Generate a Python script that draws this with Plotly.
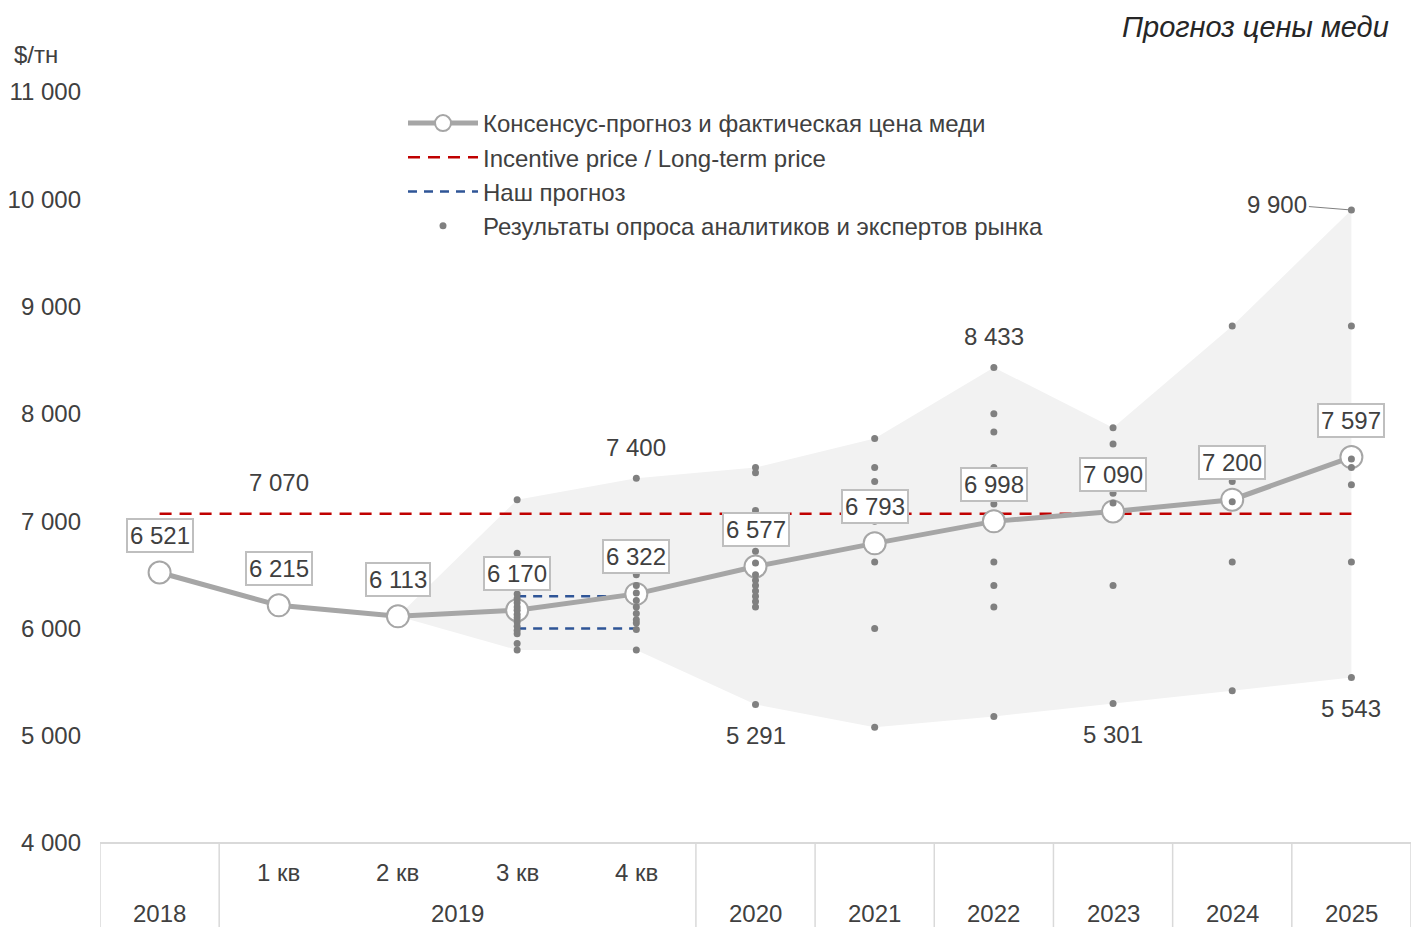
import plotly.graph_objects as go

# ---------------- data ----------------
periods = ["2018", "1 кв", "2 кв", "3 кв", "4 кв", "2020", "2021", "2022", "2023", "2024", "2025"]
year_groups = ["2018", "2019", "2020", "2021", "2022", "2023", "2024", "2025"]
year_group_sizes = [1, 4, 1, 1, 1, 1, 1, 1]

consensus = [6521, 6215, 6113, 6170, 6322, 6577, 6793, 6998, 7090, 7200, 7597]
incentive_price = 7070
our_forecast_high = 6300
our_forecast_low = 6000
our_forecast_periods = ["3 кв", "4 кв"]

band_upper = [None, None, 6113, 7200, 7400, 7500, 7770, 8433, 7870, 8820, 9900]
band_lower = [None, None, 6113, 5800, 5800, 5291, 5080, 5180, 5301, 5420, 5543]

survey = {
    "3 кв": [7200, 6700, 6320, 6280, 6240, 6200, 6170, 6130, 6100, 6060, 6020, 5980, 5950, 5860, 5800],
    "4 кв": [7400, 6500, 6400, 6330, 6260, 6200, 6140, 6080, 6050, 5990, 5800],
    "2020": [7500, 7450, 7100, 6720, 6610, 6500, 6450, 6400, 6350, 6300, 6250, 6200, 5291],
    "2021": [7770, 7500, 7370, 7000, 6620, 6000, 5080],
    "2022": [8433, 8000, 7830, 7500, 7160, 6620, 6400, 6200, 5180],
    "2023": [7870, 7720, 7260, 7170, 6400, 5301],
    "2024": [8820, 7370, 7180, 6620, 5420],
    "2025": [9900, 8820, 7580, 7500, 7340, 6620, 5543],
}

top_labels = [("1 кв", 7070), ("4 кв", 7400), ("2022", 8433)]
bottom_labels = [("2020", 5291), ("2023", 5301), ("2025", 5543)]
callout_label = ("2025", 9900)

# ---------------- styles ----------------
FONT = "Liberation Sans, Arial, sans-serif"
TXT = "#404040"
GRAY_LINE = "#a6a6a6"
DOT = "#808080"

pos = {p: i for i, p in enumerate(periods)}
xs = list(range(len(periods)))

fig = go.Figure()

# band polygon
bx = [pos[p] for p, v in zip(periods, band_upper) if v is not None]
bu = [v for v in band_upper if v is not None]
bl = [v for v in band_lower if v is not None]
fig.add_trace(go.Scatter(
    x=bx + bx[::-1], y=bu + bl[::-1], fill="toself", fillcolor="#f2f2f2",
    line=dict(width=0), mode="lines", showlegend=False, hoverinfo="skip"))

# incentive price
fig.add_trace(go.Scatter(
    x=[xs[0], xs[-1]], y=[incentive_price, incentive_price], mode="lines",
    name="Incentive price / Long-term price", legendrank=2,
    line=dict(color="#c00000", width=2.5, dash="12px,8px")))

# our forecast
fx = [pos[p] for p in our_forecast_periods]
fig.add_trace(go.Scatter(
    x=fx + [None] + fx,
    y=[our_forecast_high] * 2 + [None] + [our_forecast_low] * 2,
    mode="lines", name="Наш прогноз", legendrank=3,
    line=dict(color="#2f5597", width=2.5, dash="9px,7px")))

# consensus line
fig.add_trace(go.Scatter(
    x=xs, y=consensus, mode="lines+markers", legendrank=1,
    name="Консенсус-прогноз и фактическая цена меди",
    line=dict(color=GRAY_LINE, width=5),
    marker=dict(size=22, color="white", line=dict(color=GRAY_LINE, width=2))))

# survey dots
sx, sy = [], []
for p, vals in survey.items():
    for v in vals:
        sx.append(pos[p])
        sy.append(v)
fig.add_trace(go.Scatter(
    x=sx, y=sy, mode="markers", legendrank=4,
    name="Результаты опроса аналитиков и экспертов рынка",
    marker=dict(size=7, color=DOT)))


def fmt(v):
    return f"{v:,}".replace(",", " ")


annotations = []
for i, v in enumerate(consensus):
    annotations.append(dict(
        x=i, y=v, xref="x", yref="y", text=fmt(v), showarrow=False,
        yshift=37, font=dict(size=24, color=TXT, family=FONT),
        bgcolor="white", bordercolor="#bfbfbf", borderwidth=2, borderpad=2))
for p, v in top_labels:
    annotations.append(dict(x=pos[p], y=v, text=fmt(v), showarrow=False, yshift=31,
                            font=dict(size=24, color=TXT, family=FONT)))
for p, v in bottom_labels:
    annotations.append(dict(x=pos[p], y=v, text=fmt(v), showarrow=False, yshift=-31,
                            font=dict(size=24, color=TXT, family=FONT)))
annotations.append(dict(
    x=pos[callout_label[0]], y=callout_label[1], text=fmt(callout_label[1]),
    showarrow=True, arrowhead=0, arrowwidth=1, arrowcolor="#808080",
    ax=-74, ay=-6, standoff=2, font=dict(size=24, color=TXT, family=FONT)))

# x axis category labels
for p in periods:
    if "кв" in p:
        annotations.append(dict(x=pos[p], y=-29 / 751, xref="x", yref="paper",
                                text=p, showarrow=False, yanchor="middle",
                                font=dict(size=24, color=TXT, family=FONT)))
shapes = []
start = 0
boundaries = [-0.5]
for g, n in zip(year_groups, year_group_sizes):
    center = (start + start + n - 1) / 2
    annotations.append(dict(x=center, y=-71 / 751, xref="x", yref="paper",
                            text=g, showarrow=False, yanchor="middle",
                            font=dict(size=24, color=TXT, family=FONT)))
    start += n
    boundaries.append(start - 0.5)
for b in boundaries:
    shapes.append(dict(type="line", xref="x", yref="paper", x0=b, x1=b, y0=0, y1=-0.15,
                       line=dict(color="#d9d9d9", width=1.5)))
shapes.append(dict(type="line", xref="paper", yref="paper", x0=0, x1=1, y0=0, y1=0,
                   line=dict(color="#d9d9d9", width=2)))

annotations.append(dict(x=(1391 - 100) / 1311, y=(843 - 27) / 751, xref="paper", yref="paper",
                        xanchor="right", yanchor="middle", showarrow=False,
                        text="<i>Прогноз цены меди</i>",
                        font=dict(size=29, color="#262626", family=FONT)))
annotations.append(dict(x=(12 - 100) / 1311, y=(843 - 54) / 751, xref="paper", yref="paper",
                        xanchor="left", yanchor="middle", showarrow=False,
                        text="$/тн", font=dict(size=24, color=TXT, family=FONT)))

fig.update_layout(
    width=1417, height=927,
    margin=dict(l=100, r=6, t=92, b=84),
    paper_bgcolor="white", plot_bgcolor="white",
    separators=", ",
    font=dict(family=FONT, size=24, color=TXT),
    xaxis=dict(range=[-0.5, len(periods) - 0.5], showticklabels=False, showgrid=False,
               zeroline=False, showline=False, ticks=""),
    yaxis=dict(range=[4000, 11000], tickvals=list(range(4000, 11001, 1000)),
               tickformat=",d", showgrid=False, zeroline=False, showline=False,
               ticks="", ticklabelstandoff=18, tickfont=dict(size=24, color=TXT)),
    legend=dict(x=(403 - 100) / 1311, y=(843 - 101) / 751, xanchor="left", yanchor="top",
                font=dict(size=24, color=TXT, family=FONT), itemwidth=70,
                bgcolor="rgba(0,0,0,0)", traceorder="normal"),
    annotations=annotations, shapes=shapes,
)

fig.write_html("out.html", config={"displayModeBar": False},
               post_script="document.body.style.margin='0';")
